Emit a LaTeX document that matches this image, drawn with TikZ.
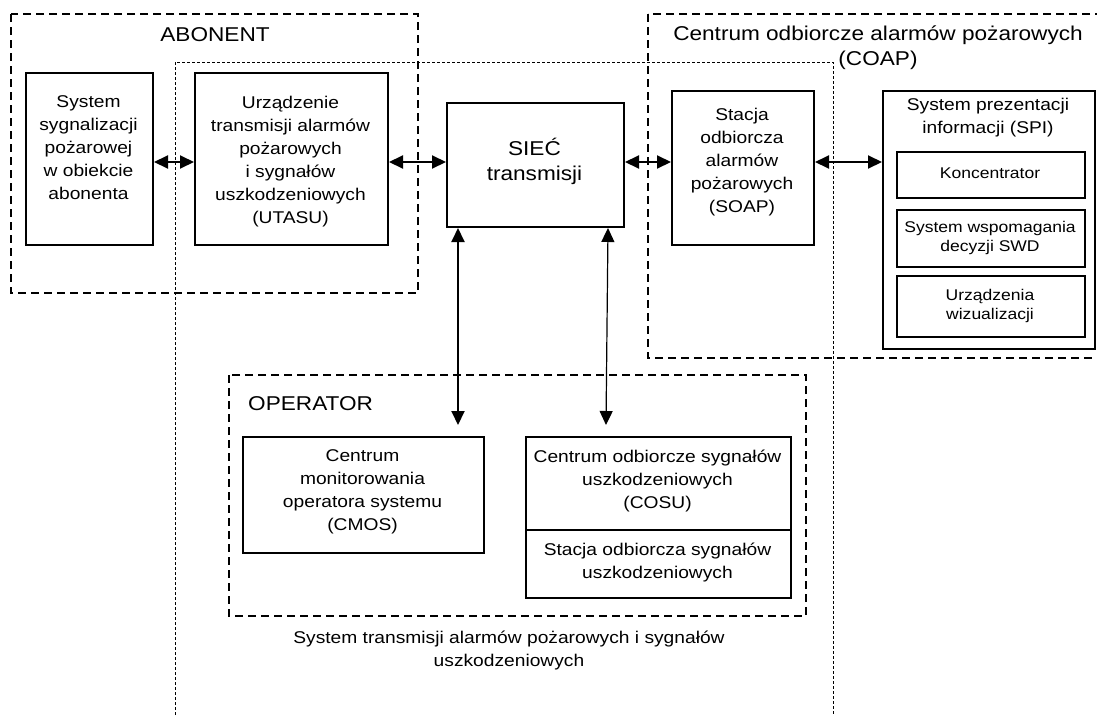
\documentclass[tikz,border=0pt]{standalone}
\usepackage{fontspec}
\setmainfont{Liberation Sans}[FakeStretch=1.13]
\usetikzlibrary{arrows.meta}
\tikzset{
  box/.style={draw, line width=2pt, inner sep=0pt, anchor=north west},
  txt/.style={inner sep=0pt, align=center, font=\fontsize{17}{23}\selectfont},
  small/.style={inner sep=0pt, align=center, font=\fontsize{15.5}{19}\selectfont},
  title/.style={inner sep=0pt, align=center, font=\fontsize{20}{25}\selectfont},
  group/.style={line width=1.4pt, dash pattern=on 8pt off 5pt},
  thin/.style={line width=0.9pt, dash pattern=on 3pt off 2pt},
  tip/.tip={Triangle[length=14pt 0 0,width=13pt 0 0]},
  arr/.style={line width=2pt, tip-tip},
  arrthin/.style={line width=1.2pt, tip-tip}
}
\begin{document}
\begin{tikzpicture}[x=1pt,y=-1pt]
\useasboundingbox (0,0) rectangle (1097,715);
\clip (0,0) rectangle (1097,715);
\fill[white] (0,0) rectangle (1097,715);

% group frames
\draw[group] (11,14) rectangle (418,293);
\draw[group] (648,14) rectangle (1110,358);
\draw[thin] (175,730) -- (175,62) -- (833,62) -- (833,730);
\draw[group] (229,375) rectangle (806,616);

% titles
\node[title] (tabo) at (215,35) {ABONENT};
\node[title] (tcoap) at (878,48) {Centrum odbiorcze alarmów pożarowych\\(COAP)};
\node[title, anchor=west] (toper) at (248,404) {OPERATOR};
\node[txt] (tsys) at (509,650) {System transmisji alarmów pożarowych i sygnałów\\uszkodzeniowych};

% boxes
\node[box, minimum width=127pt, minimum height=172pt] (ssp) at (25,72) {};
\node[txt] at (88.5,148) {System\\sygnalizacji\\pożarowej\\w obiekcie\\abonenta};

\node[box, minimum width=193pt, minimum height=172pt] (utasu) at (194,72) {};
\node[txt] at (290.5,162) {Urządzenie\\transmisji alarmów\\pożarowych\\i sygnałów\\uszkodzeniowych\\(UTASU)};

\node[box, minimum width=177pt, minimum height=124pt] (siec) at (446,102) {};
\node[title] at (534.5,161) {SIEĆ\\transmisji};

\node[box, minimum width=142pt, minimum height=154pt] (soap) at (671,90) {};
\node[txt] at (742,162) {Stacja\\odbiorcza\\alarmów\\pożarowych\\(SOAP)};

\node[box, minimum width=212pt, minimum height=258pt] (spi) at (882,90) {};
\node[txt] at (988,118) {System prezentacji\\informacji (SPI)};
\node[box, minimum width=188pt, minimum height=46pt] (konc) at (896,151) {};
\node[small] at (990,173) {Koncentrator};
\node[box, minimum width=188pt, minimum height=57pt] (swd) at (896,209) {};
\node[small] at (990,238) {System wspomagania\\decyzji SWD};
\node[box, minimum width=188pt, minimum height=61pt] (wiz) at (896,275) {};
\node[small] at (990,306) {Urządzenia\\wizualizacji};

\node[box, minimum width=241pt, minimum height=116pt] (cmos) at (242,436) {};
\node[txt] at (362.5,492) {Centrum\\monitorowania\\operatora systemu\\(CMOS)};

\node[box, minimum width=265pt, minimum height=93pt] (cosu) at (525,436) {};
\node[txt] at (657.5,481) {Centrum odbiorcze sygnałów\\uszkodzeniowych\\(COSU)};
\node[box, minimum width=265pt, minimum height=68pt] (stacja) at (525,529) {};
\node[txt] at (657.5,562) {Stacja odbiorcza sygnałów\\uszkodzeniowych};

% connectors
\coordinate (row) at (0,162);
\draw[arr] (ssp.east |- row) -- (utasu.west |- row);
\draw[arr] (utasu.east |- row) -- (siec.west |- row);
\draw[arr] (siec.east |- row) -- (soap.west |- row);
\draw[arr] (soap.east |- row) -- (spi.west |- row);

\coordinate (a1) at (458,425);
\coordinate (a2) at (606,425);
\draw[arr] (siec.south -| a1) -- (a1);
\draw[arrthin] (siec.south -| 608,0) -- (a2);
\end{tikzpicture}
\end{document}
